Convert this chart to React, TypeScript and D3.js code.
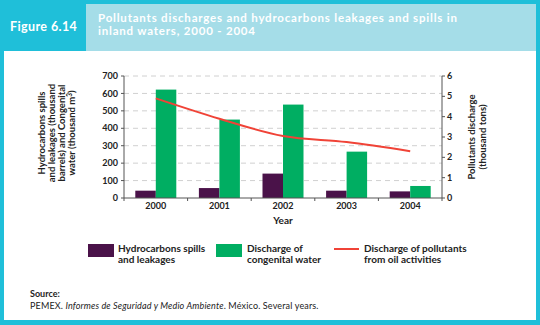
import React from "react";
import * as d3 from "d3";

const years = ["2000", "2001", "2002", "2003", "2004"];
const spills = [42, 57, 140, 42, 38];
const congenital = [622, 450, 536, 266, 69];
const pollutants = [4.9, 3.9, 3.05, 2.75, 2.3];
const leftTicks = [0, 100, 200, 300, 400, 500, 600, 700];
const rightTicks = [0, 1, 2, 3, 4, 5, 6];

const CYAN = "#1fbfd9";
const LIGHT = "#a5dde8";
const PURPLE = "#4a1249";
const GREEN = "#00ae62";
const RED = "#f04337";
const FONT = "Lato, 'Open Sans', sans-serif";

export default function App() {
  const left = 124, right = 442, top = 76, bottom = 198;
  const x = d3.scaleBand<string>().domain(years).range([left, right]).paddingInner(0).paddingOuter(0);
  const yL = d3.scaleLinear().domain([0, 700]).range([bottom, top]);
  const yR = d3.scaleLinear().domain([0, 6]).range([bottom, top]);
  const bw = 20.5;
  const line = d3
    .line<number>()
    .x((_, i) => (x(years[i]) as number) + x.bandwidth() / 2)
    .y((d) => yR(d))
    .curve(d3.curveMonotoneX);

  return (
    <svg width={540} height={325} style={{ position: "absolute", left: 0, top: 0 }} fontFamily={FONT}>
      <rect x={0} y={0} width={540} height={325} fill={CYAN} />
      <rect x={86} y={4} width={450} height={47} fill={LIGHT} />
      <rect x={4} y={51} width={532} height={269} fill="#ffffff" />
      <text x={10} y={31} fill="#fff" fontSize={12.5} fontWeight={700} letterSpacing={0.4}>Figure 6.14</text>
      <text x={98} y={22} fill="#fff" fontSize={11.5} fontWeight={700} letterSpacing={0.8}>
        Pollutants discharges and hydrocarbons leakages and spills in
      </text>
      <text x={98} y={35} fill="#fff" fontSize={11.5} fontWeight={700} letterSpacing={0.8}>inland waters, 2000 - 2004</text>

      {/* grid */}
      {leftTicks.slice(1).map((t) => (
        <line key={"g" + t} x1={left} x2={right} y1={yL(t)} y2={yL(t)} stroke="#d0d0d0" strokeWidth={1} strokeDasharray="5,4" />
      ))}

      {/* bars */}
      {years.map((yr, i) => {
        const cx = (x(yr) as number) + x.bandwidth() / 2;
        return (
          <g key={yr}>
            <rect x={cx - bw} y={yL(spills[i])} width={bw} height={bottom - yL(spills[i])} fill={PURPLE} />
            <rect x={cx} y={yL(congenital[i])} width={bw} height={bottom - yL(congenital[i])} fill={GREEN} />
          </g>
        );
      })}

      <path d={line(pollutants) as string} fill="none" stroke={RED} strokeWidth={2} />

      {/* axes */}
      <line x1={left} x2={left} y1={top} y2={bottom} stroke="#555" strokeWidth={1} />
      <line x1={right} x2={right} y1={top} y2={bottom} stroke="#555" strokeWidth={1} />
      <line x1={left} x2={right} y1={bottom} y2={bottom} stroke="#555" strokeWidth={1} />
      {leftTicks.map((t) => (
        <g key={"l" + t}>
          <line x1={left - 3} x2={left} y1={yL(t)} y2={yL(t)} stroke="#555" />
          <text x={left - 6} y={yL(t)} dy="0.35em" textAnchor="end" fontSize={9} fontWeight={700} fill="#222">{t}</text>
        </g>
      ))}
      {rightTicks.map((t) => (
        <g key={"r" + t}>
          <line x1={right} x2={right + 3} y1={yR(t)} y2={yR(t)} stroke="#555" />
          <text x={right + 5} y={yR(t)} dy="0.35em" textAnchor="start" fontSize={9} fontWeight={700} fill="#222">{t}</text>
        </g>
      ))}
      {years.map((yr) => (
        <g key={"x" + yr}>
          <line x1={x(yr) as number} x2={x(yr) as number} y1={bottom} y2={bottom + 3} stroke="#555" />
          <text x={(x(yr) as number) + x.bandwidth() / 2} y={209} textAnchor="middle" fontSize={9} fontWeight={700} fill="#222">{yr}</text>
        </g>
      ))}
      <line x1={right} x2={right} y1={bottom} y2={bottom + 3} stroke="#555" />
      <text x={283} y={224} textAnchor="middle" fontSize={10} fontWeight={700} fill="#222">Year</text>

      {/* left title */}
      <g transform="translate(56,133) rotate(-90)" fontSize={9.5} fontWeight={700} fill="#222" textAnchor="middle">
        <text x={0} y={-11}>Hydrocarbons spills</text>
        <text x={0} y={-1}>and leakages (thousand</text>
        <text x={0} y={9}>barrels) and Congenital</text>
        <text x={0} y={19}>
          water (thousand m<tspan dy={-3} fontSize={6.5}>3</tspan><tspan dy={3}>)</tspan>
        </text>
      </g>
      {/* right title */}
      <g transform="translate(479,137) rotate(-90)" fontSize={9.5} fontWeight={700} fill="#222" textAnchor="middle">
        <text x={0} y={-4}>Pollutants discharge</text>
        <text x={0} y={7}>(thousand tons)</text>
      </g>

      {/* legend */}
      <rect x={88} y={244} width={26} height={13} fill={PURPLE} />
      <text x={118} y={252} fontSize={10} fontWeight={700} fill="#222">Hydrocarbons spills</text>
      <text x={118} y={263} fontSize={10} fontWeight={700} fill="#222">and leakages</text>
      <rect x={216} y={244} width={26} height={13} fill={GREEN} />
      <text x={247} y={252} fontSize={10} fontWeight={700} fill="#222">Discharge of</text>
      <text x={247} y={263} fontSize={10} fontWeight={700} fill="#222">congenital water</text>
      <line x1={334} x2={359} y1={249} y2={249} stroke={RED} strokeWidth={2} />
      <text x={364} y={252} fontSize={10} fontWeight={700} fill="#222">Discharge of pollutants</text>
      <text x={364} y={263} fontSize={10} fontWeight={700} fill="#222">from oil activities</text>

      {/* source */}
      <text x={30} y={297} fontSize={9} fontWeight={700} fill="#222">Source:</text>
      <text x={30} y={309} fontSize={9} fill="#222" letterSpacing={0.15}>
        PEMEX. <tspan fontStyle="italic">Informes de Seguridad y Medio Ambiente</tspan>. México. Several years.
      </text>
    </svg>
  );
}
